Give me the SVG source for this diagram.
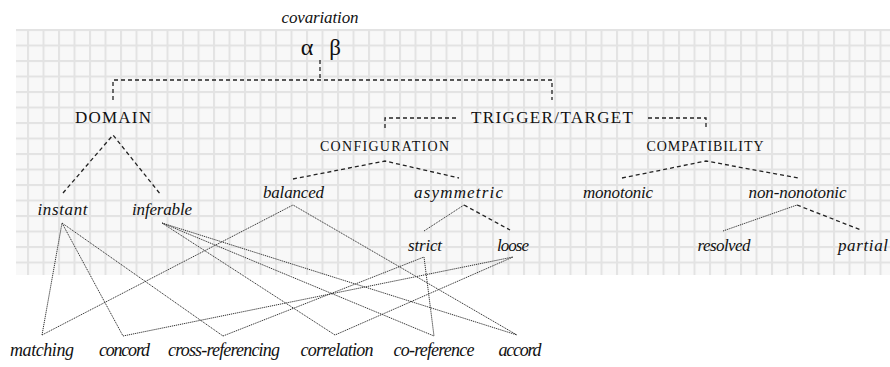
<svg xmlns="http://www.w3.org/2000/svg" width="890" height="367" viewBox="0 0 890 367">
<defs>
<pattern id="grid" patternUnits="userSpaceOnUse" x="27" y="29" width="15.5" height="15.5">
<rect width="15.5" height="15.5" fill="#f8f8f8"/>
<rect width="2" height="15.5" fill="#e3e3e3"/>
<rect width="15.5" height="2" fill="#e3e3e3"/>
</pattern>
</defs>
<style>
text{font-family:'Liberation Serif','Times New Roman',serif;fill:#111;text-anchor:middle}
.it{font-style:italic;font-size:17px}
.cap{font-size:17px}
.sc{font-size:14px}
.big{font-style:italic;font-size:18px}
.dash{fill:none;stroke:#222;stroke-width:1.3;stroke-dasharray:4 3}
.dot{fill:none;stroke:#333;stroke-width:1;stroke-dasharray:1.2 0.8}
</style>
<rect x="16" y="29" width="874" height="246" fill="url(#grid)"/>

<g id="connectors">
<path class="dash" d="M320 60V80M113 100V80H552V100"/>
<path class="dash" d="M456 118H385V131M648 118H706V130"/>
<path class="dash" d="M63 193L113 135L161 195"/>
<path class="dash" d="M293 179L385 161L459 178"/>
<path class="dash" d="M622 178L706 161L798 178"/>
<path class="dot" d="M424 231L464 205"/>
<path class="dash" d="M464 205L510 230"/>
<path class="dot" d="M723 231L797 205"/>
<path class="dash" d="M797 205L861 230"/>
<path class="dot" d="M42 335L62 223L123 336M62 223L223 336"/>
<path class="dot" d="M335 335L162 223L434 336M162 223L517 335"/>
<path class="dot" d="M42 335L293 205L517 335"/>
<path class="dot" d="M223 336L424 257L434 336"/>
<path class="dot" d="M123 336L513 257L335 335"/>
</g>

<g id="covariation"><text class="it" x="320" y="23" textLength="77">covariation</text></g>
<g id="alpha"><text x="307" y="55" font-size="24">α</text></g>
<g id="beta"><text x="335" y="55" font-size="23">β</text></g>
<g id="domain"><text class="cap" x="113" y="123" textLength="76">DOMAIN</text></g>
<g id="trigger-target"><text class="cap" x="552" y="123" textLength="162">TRIGGER/TARGET</text></g>
<g id="configuration"><text class="sc" x="384.5" y="151" textLength="129">CONFIGURATION</text></g>
<g id="compatibility"><text class="sc" x="705" y="151" textLength="117">COMPATIBILITY</text></g>
<g id="instant"><text class="it" x="62.5" y="215" textLength="50">instant</text></g>
<g id="inferable"><text class="it" x="162" y="215" textLength="60">inferable</text></g>
<g id="balanced"><text class="it" x="293.5" y="198" textLength="61">balanced</text></g>
<g id="asymmetric"><text class="it" x="458.5" y="198" textLength="89">asymmetric</text></g>
<g id="monotonic"><text class="it" x="618" y="198" textLength="70">monotonic</text></g>
<g id="non-nonotonic"><text class="it" x="797.5" y="198" textLength="98">non-nonotonic</text></g>
<g id="strict"><text class="it" x="425" y="251" textLength="34">strict</text></g>
<g id="loose"><text class="it" x="513" y="251" textLength="32">loose</text></g>
<g id="resolved"><text class="it" x="724" y="251" textLength="53">resolved</text></g>
<g id="partial"><text class="it" x="863" y="251" textLength="50">partial</text></g>
<g id="matching"><text class="big" x="42" y="356" textLength="64">matching</text></g>
<g id="concord"><text class="big" x="124.5" y="356" textLength="51">concord</text></g>
<g id="cross-referencing"><text class="big" x="224" y="356" textLength="112">cross-referencing</text></g>
<g id="correlation"><text class="big" x="337" y="356" textLength="73">correlation</text></g>
<g id="co-reference"><text class="big" x="434" y="356" textLength="81">co-reference</text></g>
<g id="accord"><text class="big" x="520" y="356" textLength="43">accord</text></g>
</svg>
